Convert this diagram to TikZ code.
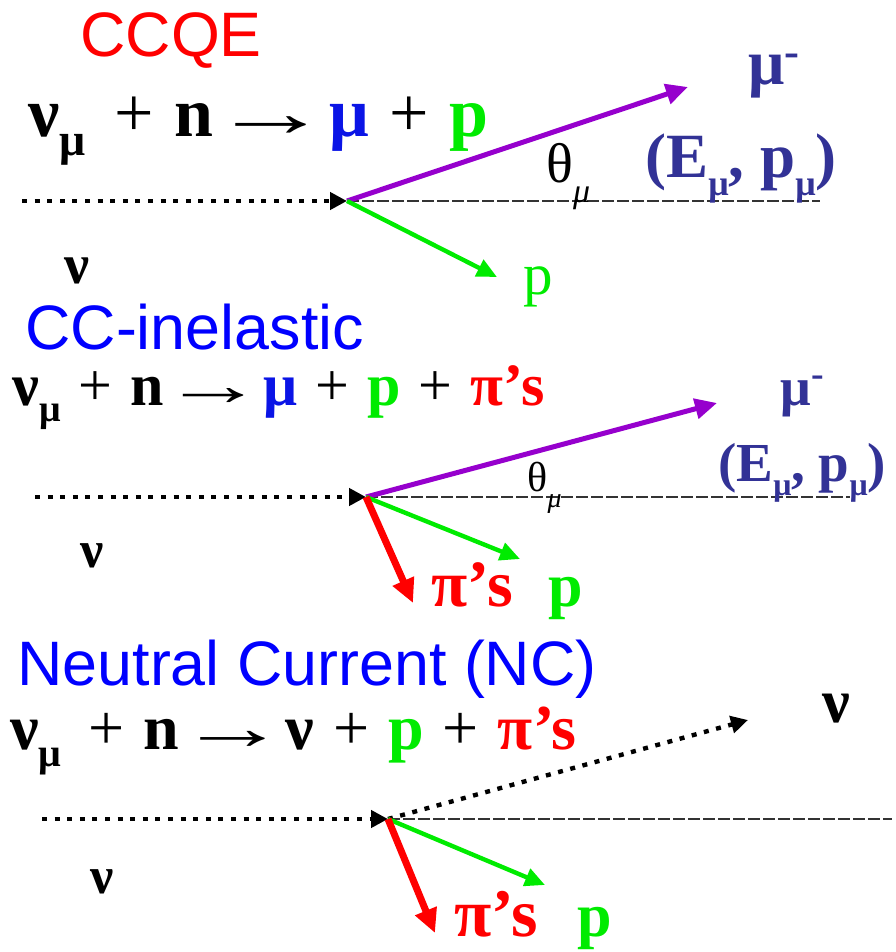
\documentclass[tikz,border=0pt]{standalone}
\usepackage{fontspec}
\usepackage{graphicx}
\setmainfont{Liberation Serif}
\setsansfont{Liberation Sans}
\usetikzlibrary{arrows.meta}

\definecolor{titlered}{RGB}{255,0,0}
\definecolor{titleblue}{RGB}{0,0,255}
\definecolor{mublue}{RGB}{10,20,230}
\definecolor{pgreen}{RGB}{0,235,0}
\definecolor{trackviolet}{RGB}{150,0,205}
\definecolor{kinblue}{RGB}{50,50,150}

\newcommand{\fsz}[1]{\fontsize{#1}{#1}\selectfont}
\newcommand{\lowmu}[1]{\raisebox{-0.27em}{\fsz{#1}μ}}
\newcommand{\plus}{\hspace{1.5pt}{\mdseries+}\hspace{1.5pt}}
\newcommand{\yields}{\hspace{-0.27em}{\mdseries\scalebox{1.7}[1]{→}}\hspace{-0.27em}}

\begin{document}
\begin{tikzpicture}[x=0.5pt,y=-0.5pt,
    title/.style={font=\sffamily\fsz{31.4}, anchor=base west, inner sep=0pt},
    eqn/.style={anchor=base west, inner sep=0pt},
    lbl/.style={anchor=base west, inner sep=0pt},
    nuline/.style={line width=2.2pt, dash pattern=on 2.5pt off 3.8pt,
        -{Triangle[length=8.5pt,width=8.5pt]}},
    beamaxis/.style={line width=1.1pt, black!80, dash pattern=on 6pt off 1.5pt},
    mutrack/.style={trackviolet, line width=2.5pt, -{Triangle[length=11pt,width=10pt]}},
    ptrack/.style={pgreen, line width=2.2pt, -{Triangle[length=10pt,width=9pt]}},
    pitrack/.style={red, line width=3.5pt, -{Triangle[length=12pt,width=11pt]}}]
    \useasboundingbox (0,0) rectangle (895,952);

    % CCQE
    \node[title, text=titlered] (ccqe) at (80,57) {CCQE};
    \node[eqn, font=\bfseries\fsz{35}] (eqccqe) at (28,137)
        {ν\lowmu{23}\hspace{4pt} \plus{} n \yields{} \textcolor{mublue}{μ} \plus{} \textcolor{pgreen}{p}};
    \coordinate (in1) at (22,201);
    \coordinate (v1) at (347,201);
    \coordinate (ax1) at (820,201);
    \coordinate (mu1) at (688,87);
    \coordinate (p1) at (497,277);
    \draw[beamaxis] (v1) -- (ax1);
    \draw[nuline] (in1) -- (v1);
    \draw[mutrack] (v1) -- (mu1);
    \draw[ptrack] (v1) -- (p1);
    \node[lbl, font=\bfseries\fsz{32}, text=kinblue] (muout1) at (748,85) {μ\textsuperscript{-}};
    \node[lbl, font=\bfseries\fsz{31.5}, text=kinblue] (kin1) at (645,178) {(E\lowmu{18}, p\lowmu{18})};
    \node[lbl, font=\fsz{28}] (theta1) at (546,183) {θ\raisebox{-10pt}{\fsz{17}\itshape μ}};
    \node[lbl, font=\fsz{29.5}, text=pgreen] (plab1) at (523,294) {p};
    \node[lbl, font=\bfseries\fsz{28}] (nuin1) at (64,283) {ν};

    % CC-inelastic
    \node[title, text=titleblue] (ccinel) at (25,349) {CC-inelastic};
    \node[eqn, font=\bfseries\fsz{30}] (eqccinel) at (12,405)
        {ν\lowmu{19} \plus{} n \yields{} \textcolor{mublue}{μ} \plus{} \textcolor{pgreen}{p} \plus{} \textcolor{red}{π’s}};
    \coordinate (in2) at (35,497);
    \coordinate (v2) at (366,497);
    \coordinate (ax2) at (850,497);
    \coordinate (mu2) at (717,403);
    \coordinate (p2) at (520,559);
    \coordinate (pi2) at (413,603);
    \draw[beamaxis] (v2) -- (ax2);
    \draw[nuline] (in2) -- (v2);
    \draw[mutrack] (v2) -- (mu2);
    \draw[ptrack] (v2) -- (p2);
    \draw[pitrack] (v2) -- (pi2);
    \node[lbl, font=\bfseries\fsz{27}, text=kinblue] (muout2) at (780,405) {μ\textsuperscript{-}};
    \node[lbl, font=\bfseries\fsz{27.5}, text=kinblue] (kin2) at (718,481) {(E\lowmu{16}, p\lowmu{16})};
    \node[lbl, font=\fsz{21}] (theta2) at (527,491) {θ\raisebox{-8pt}{\fsz{14}\itshape μ}};
    \node[lbl, font=\bfseries\fsz{26}] (nuin2) at (80,567) {ν};
    \node[lbl, font=\bfseries\fsz{33}, text=red] (pilab2) at (431,606) {π’s};
    \node[lbl, font=\bfseries\fsz{31}, text=pgreen] (plab2) at (548,606) {p};

    % Neutral Current
    \node[title, text=titleblue] (nc) at (17,685) {Neutral Current (NC)};
    \node[eqn, font=\bfseries\fsz{32}] (eqnc) at (10,749)
        {ν\lowmu{20}\hspace{4pt} \plus{} n \yields{} ν \plus{} \textcolor{pgreen}{p} \plus{} \textcolor{red}{π’s}};
    \coordinate (in3) at (42,819);
    \coordinate (v3) at (388,819);
    \coordinate (ax3) at (892,819);
    \coordinate (nu3) at (748,720);
    \coordinate (p3) at (545,885);
    \coordinate (pi3) at (435,933);
    \draw[beamaxis] (v3) -- (ax3);
    \draw[nuline] (in3) -- (v3);
    \draw[nuline] (v3) -- (nu3);
    \draw[ptrack] (v3) -- (p3);
    \draw[pitrack] (v3) -- (pi3);
    \node[lbl, font=\bfseries\fsz{31}] (nuout3) at (822,722) {ν};
    \node[lbl, font=\bfseries\fsz{26}] (nuin3) at (90,893) {ν};
    \node[lbl, font=\bfseries\fsz{34}, text=red] (pilab3) at (454,936) {π’s};
    \node[lbl, font=\bfseries\fsz{31}, text=pgreen] (plab3) at (577,936) {p};
\end{tikzpicture}
\end{document}
